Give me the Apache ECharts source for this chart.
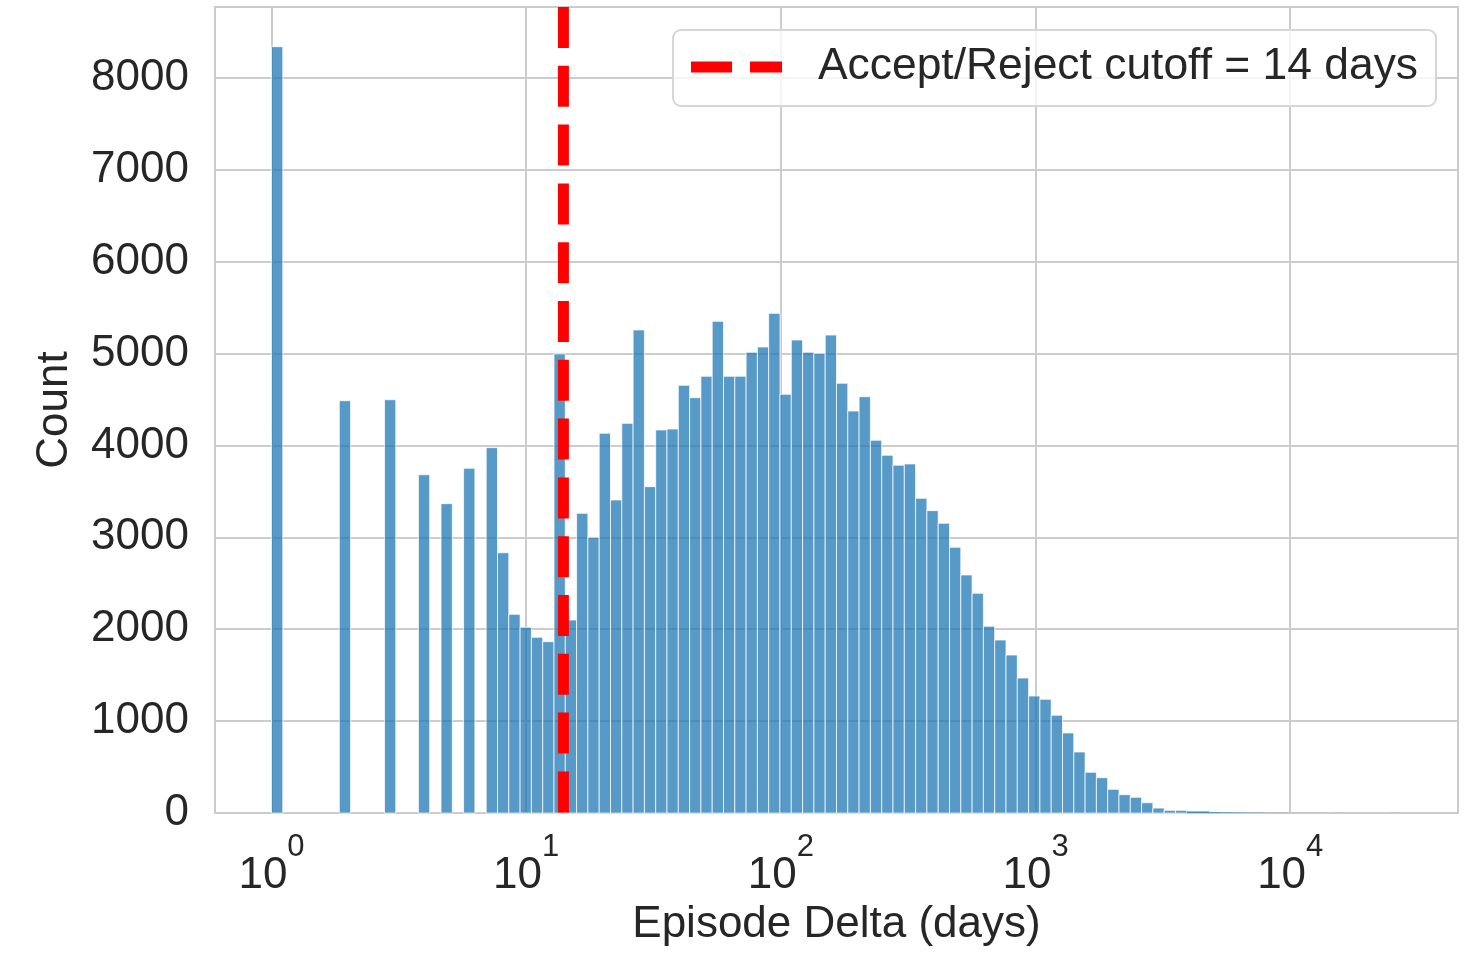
<!DOCTYPE html>
<html>
<head>
<meta charset="utf-8">
<title>Episode Delta histogram</title>
<script src="https://cdn.jsdelivr.net/npm/echarts@6/dist/echarts.min.js"></script>
<style>
  html, body { margin: 0; padding: 0; background: #fff; }
  #chart { width: 1481px; height: 979px; }
</style>
</head>
<body>
<div id="chart"></div>
<script>
// histogram counts, 100 equal bins in log10(days) from 1 day to the largest delta
var counts = [
    8338, 0, 0, 0, 0, 0, 4486, 0, 0, 0,
    4497, 0, 0, 3681, 0, 3366, 0, 3751, 0, 3975,
    2832, 2162, 2021, 1912, 1864, 4995, 2100, 3261, 3000, 4132,
    3406, 4240, 5256, 3551, 4168, 4178, 4654, 4519, 4752, 5350,
    4752, 4752, 5013, 5071, 5437, 4556, 5147, 5013, 5002, 5201,
    4676, 4374, 4530, 4056, 3893, 3785, 3798, 3424, 3290, 3153,
    2891, 2590, 2391, 2032, 1882, 1719, 1469, 1273, 1237, 1064,
    871, 664, 443, 384, 258, 199, 171, 112, 54, 29,
    29, 18, 18, 9, 7, 5, 4, 3, 2, 2,
    1, 1, 1, 0, 1, 0, 0, 0, 0, 1
];
var minDays = 1;
var maxDays = 27350;
var cutoffDays = 14;
var cutoffLabel = 'Accept/Reject cutoff = 14 days';
var yTicks = [0, 1000, 2000, 3000, 4000, 5000, 6000, 7000, 8000];
var yMax = 8770;

var logMin = Math.log10(minDays);
var logMax = Math.log10(maxDays);
var binW = (logMax - logMin) / counts.length;

var bins = [];
for (var i = 0; i < counts.length; i++) {
    bins.push([logMin + i * binW, logMin + (i + 1) * binW, counts[i]]);
}
// matplotlib style 5% margins on the x range
var span = logMax - logMin;
var xMin = logMin - 0.05 * span;
var xMax = logMax + 0.05 * span;
var cutX = Math.log10(cutoffDays);

var font = 'Liberation Sans, Arial, sans-serif';
var ink = '#262626';
var gridGray = '#cccccc';

var chart = echarts.init(document.getElementById('chart'));
chart.setOption({
    animation: false,
    backgroundColor: '#ffffff',
    textStyle: { fontFamily: font, color: ink },
    grid: {
        left: 215, right: 23, top: 7, bottom: 166,
        show: true, borderColor: gridGray, borderWidth: 2
    },
    legend: {
        data: [{ name: cutoffLabel, icon: 'path://M0,0H41V11H0Z M59,0H91V11H59Z' }],
        left: 673, top: 30,
        itemWidth: 91, itemHeight: 11,
        padding: [15, 18, 17, 18],
        backgroundColor: 'rgba(255,255,255,0.8)',
        borderColor: '#d6d6d6', borderWidth: 2, borderRadius: 8,
        textStyle: { fontFamily: font, fontSize: 44.4, lineHeight: 44, color: ink, padding: [0, 0, 0, 31] }
    },
    xAxis: {
        type: 'value',
        min: xMin, max: xMax,
        name: 'Episode Delta (days)',
        nameLocation: 'middle',
        nameGap: 90,
        nameTextStyle: { fontFamily: font, fontSize: 44, lineHeight: 44, color: ink },
        axisLine: { lineStyle: { color: gridGray, width: 2 } },
        axisTick: { show: false },
        splitLine: { show: true, lineStyle: { color: gridGray, width: 2 } },
        axisLabel: {
            margin: 19,
            color: ink,
            fontFamily: font,
            formatter: function (v) {
                if (Math.abs(v - Math.round(v)) > 1e-6) return '';
                return '{b|10}{s|' + Math.round(v) + '}';
            },
            rich: {
                b: { fontFamily: font, fontSize: 44, lineHeight: 66, verticalAlign: 'bottom', color: ink },
                s: { fontFamily: font, fontSize: 31, lineHeight: 31, verticalAlign: 'top', color: ink }
            }
        }
    },
    yAxis: {
        type: 'value',
        min: 0, max: yMax, interval: 1000,
        name: 'Count',
        nameLocation: 'middle',
        nameGap: 138,
        nameRotate: 90,
        nameTextStyle: { fontFamily: font, fontSize: 44, lineHeight: 44, color: ink },
        axisLine: { show: true, lineStyle: { color: gridGray, width: 2 } },
        axisTick: { show: false },
        splitLine: { show: true, lineStyle: { color: gridGray, width: 2 } },
        axisLabel: {
            margin: 26,
            fontSize: 44,
            color: ink,
            fontFamily: font,
            formatter: function (v) {
                return yTicks.indexOf(v) >= 0 ? String(v) : '';
            }
        }
    },
    series: [
        {
            type: 'custom',
            data: bins,
            encode: { x: [0, 1], y: 2 },
            renderItem: function (params, api) {
                if (api.value(2) <= 0) return null;
                var top = api.coord([api.value(0), api.value(2)]);
                var base = api.coord([api.value(1), 0]);
                var h = base[1] - top[1];
                return {
                    type: 'rect',
                    shape: { x: top[0], y: top[1], width: base[0] - top[0], height: h },
                    style: {
                        fill: 'rgba(31,119,180,0.75)',
                        stroke: h > 2 ? 'rgba(255,255,255,0.75)' : null,
                        lineWidth: 1
                    }
                };
            },
            z: 2
        },
        {
            name: cutoffLabel,
            type: 'line',
            data: [[cutX, yMax], [cutX, 0]],
            symbol: 'none',
            color: '#ff0000',
            lineStyle: { color: '#ff0000', width: 11, type: [41, 17.8], cap: 'butt' },
            z: 3
        }
    ]
});
</script>
</body>
</html>
